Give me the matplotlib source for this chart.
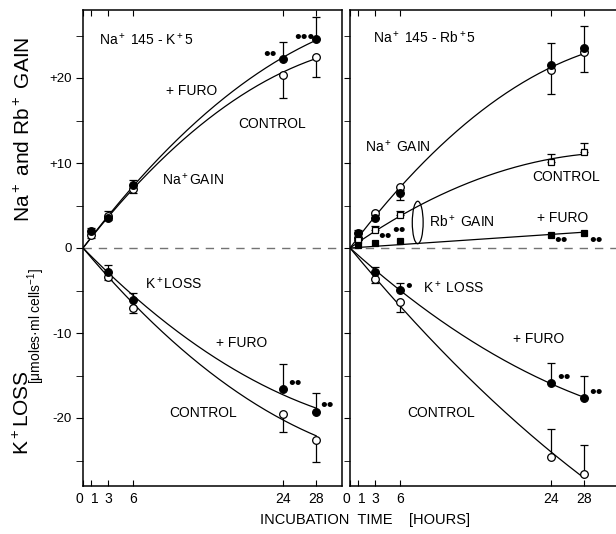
import numpy as np
import matplotlib
matplotlib.use("Agg")
import matplotlib.pyplot as plt
from matplotlib import font_manager
from matplotlib.patches import Ellipse

names = {f.name for f in font_manager.fontManager.ttflist}
fam = "Liberation Sans Narrow" if "Liberation Sans Narrow" in names else "Liberation Sans"
plt.rcParams["font.family"] = [fam, "DejaVu Sans"]
plt.rcParams["mathtext.fontset"] = "custom"
plt.rcParams["mathtext.rm"] = fam
plt.rcParams["mathtext.it"] = fam
plt.rcParams["mathtext.sf"] = fam

# ---- data ----
hours = [1, 3, 6, 24, 28]
hours_k = [3, 6, 24, 28]

# left panel: Na+145 - K+5
na_furo_L = [2.0, 3.5, 7.4, 22.2, 24.6]
na_furo_L_up = [0.4, 0.8, 0.6, 2.0, 2.6]
na_ctrl_L = [1.5, 3.8, 7.0, 20.4, 22.5]
na_ctrl_L_dn = [0.3, 0.5, 0.5, 2.8, 2.4]
k_furo_L = [-2.8, -6.1, -16.6, -19.3]
k_furo_L_up = [0.8, 0.8, 2.9, 2.2]
k_ctrl_L = [-3.4, -7.0, -19.5, -22.6]
k_ctrl_L_dn = [0.4, 0.6, 2.2, 2.6]

# right panel: Na+145 - Rb+5
na_furo_R = [1.8, 3.5, 6.5, 21.5, 23.5]
na_furo_R_up = [0.3, 0.4, 0.3, 2.6, 2.6]
na_ctrl_R = [1.2, 4.1, 7.2, 20.9, 23.1]
na_ctrl_R_dn = [0.3, 0.6, 1.6, 2.8, 2.4]
rb_ctrl_R = [1.0, 2.1, 3.9, 10.1, 11.3]
rb_ctrl_R_up = [0.3, 0.5, 0.4, 1.0, 1.0]
rb_furo_R = [0.4, 0.6, 0.8, 1.5, 1.8]
k_furo_R = [-2.8, -4.9, -15.9, -17.6]
k_furo_R_up = [0.6, 0.8, 2.4, 2.5]
k_ctrl_R = [-3.6, -6.3, -24.6, -26.6]
k_ctrl_R_err = [[0.5, 1.2, 0.0, 0.0], [0.0, 0.0, 3.3, 3.4]]

W, H = 616, 534
fig = plt.figure(figsize=(W / 100, H / 100), dpi=100)
axL = fig.add_axes([83 / W, (H - 486) / H, (342 - 83) / W, (486 - 10) / H])
axR = fig.add_axes([350 / W, (H - 486) / H, (620 - 350) / W, (486 - 10) / H])
axL.set_xlim(0, 31.1)
axR.set_xlim(0, 32.3)


def fit_curve(t, y, deg=2):
    # smooth line through origin (least squares on t, t^2)
    t = np.asarray(t, float)
    A = np.column_stack([t ** k for k in range(1, deg + 1)])
    c = np.linalg.lstsq(A, np.asarray(y, float), rcond=None)[0]
    tt = np.linspace(0, t.max(), 200)
    return tt, sum(c[k - 1] * tt ** k for k in range(1, deg + 1))


def series(ax, t, y, filled, yerr=None, marker="o", ms=5.5, line=True, deg=2):
    if line:
        tt, yy = fit_curve(t, y, deg)
        ax.plot(tt, yy, color="black", lw=0.9, zorder=2)
    if yerr is not None:
        ax.errorbar(t, y, yerr=yerr, fmt="none", ecolor="black", elinewidth=0.9,
                    capsize=3, capthick=0.9, zorder=3)
    ax.plot(t, y, ls="none", marker=marker, ms=ms, mec="black", mew=0.9,
            mfc="black" if filled else "white", zorder=4)


z = np.zeros(5)
zk = np.zeros(4)
series(axL, hours, na_ctrl_L, False, [na_ctrl_L_dn, z])
series(axL, hours, na_furo_L, True, [z, na_furo_L_up])
series(axL, hours_k, k_ctrl_L, False, [k_ctrl_L_dn, zk])
series(axL, hours_k, k_furo_L, True, [zk, k_furo_L_up])

series(axR, hours, na_ctrl_R, False, [na_ctrl_R_dn, z])
series(axR, hours, na_furo_R, True, [z, na_furo_R_up], line=False)
series(axR, hours, rb_ctrl_R, False, [z, rb_ctrl_R_up], marker="s", ms=5)
series(axR, hours, rb_furo_R, True, None, marker="s", ms=5, deg=1)
series(axR, hours_k, k_ctrl_R, False, k_ctrl_R_err)
series(axR, hours_k, k_furo_R, True, [zk, k_furo_R_up])

axR.add_patch(Ellipse((8.1, 3.0), 1.3, 5.0, fill=False, ec="black", lw=0.9))

for ax in (axL, axR):
    ax.set_ylim(-28, 28)
    ax.axhline(0, color="0.45", lw=1.0, ls=(0, (6, 5)), zorder=1)
    ax.set_xticks([0, 1, 3, 6, 24, 28])
    ax.set_xticklabels(["0", "1", "3", "6", "24", "28"], fontsize=10)
    ax.tick_params(axis="x", direction="in", length=4, top=True, pad=4)
    ax.set_yticks([-20, -10, 0, 10, 20])
    ax.set_yticks([-25, -15, -5, 5, 15, 25], minor=True)
    for s in ax.spines.values():
        s.set_linewidth(1.1)
    ax.xaxis.get_majorticklabels()[0].set_horizontalalignment("right")
    ax.xaxis.get_majorticklabels()[1].set_horizontalalignment("left")

axL.set_yticklabels(["-20", "-10", "0", "+10", "+20"], fontsize=9.5)
axL.tick_params(axis="y", which="both", direction="out", length=5, pad=3)
axR.set_yticklabels([])
axR.tick_params(axis="y", which="both", direction="out", length=4, right=True)

fs = 10
# left panel texts
axL.text(1.9, 24.5, "Na$^+$ 145 - K$^+$5", fontsize=fs, va="center")
axL.text(10.0, 18.5, "+ FURO", fontsize=fs, va="center")
axL.text(18.6, 14.6, "CONTROL", fontsize=fs, va="center")
axL.text(9.5, 8.0, "Na$^+$GAIN", fontsize=fs, va="center")
axL.text(7.4, -4.2, "K$^+$LOSS", fontsize=fs, va="center")
axL.text(16.0, -11.2, "+ FURO", fontsize=fs, va="center")
axL.text(10.3, -19.4, "CONTROL", fontsize=fs, va="center")
# right panel texts
axR.text(2.7, 24.7, "Na$^+$ 145 - Rb$^+$5", fontsize=fs, va="center")
axR.text(1.8, 11.9, "Na$^+$ GAIN", fontsize=fs, va="center")
axR.text(21.8, 8.4, "CONTROL", fontsize=fs, va="center")
axR.text(9.4, 3.1, "Rb$^+$ GAIN", fontsize=fs, va="center")
axR.text(22.4, 3.5, "+ FURO", fontsize=fs, va="center")
axR.text(8.7, -4.7, "K$^+$ LOSS", fontsize=fs, va="center")
axR.text(19.5, -10.7, "+ FURO", fontsize=fs, va="center")
axR.text(6.8, -19.4, "CONTROL", fontsize=fs, va="center")

# significance marks
dots = dict(fontsize=14, va="center", ha="left")
axL.text(21.6, 22.6, "••", **dots)
axL.text(25.4, 24.7, "•••", **dots)
axL.text(24.6, -16.1, "••", **dots)
axL.text(28.5, -18.7, "••", **dots)
axR.text(3.4, 1.2, "••", **dots)
axR.text(5.1, 1.9, "••", **dots)
axR.text(24.4, 0.8, "••", **dots)
axR.text(28.6, 0.8, "••", **dots)
axR.text(6.6, -4.7, "•", **dots)
axR.text(24.8, -15.4, "••", **dots)
axR.text(28.6, -17.1, "••", **dots)

# axis labels
fig.text(23 / W, (H - 455) / H, "K$^+$LOSS", rotation=90, fontsize=15,
         ha="center", va="bottom")
fig.text(36 / W, (H - 384) / H, "[μmoles·ml cells$^{-1}$]", rotation=90,
         fontsize=10, ha="center", va="bottom")
fig.text(24 / W, (H - 222) / H, "Na$^+$ and Rb$^+$ GAIN", rotation=90,
         fontsize=15, ha="center", va="bottom")
fig.text(365 / W, (H - 520) / H, "INCUBATION  TIME    [HOURS]", fontsize=10.5,
         ha="center", va="center")

fig.savefig("out.png", dpi=100)
